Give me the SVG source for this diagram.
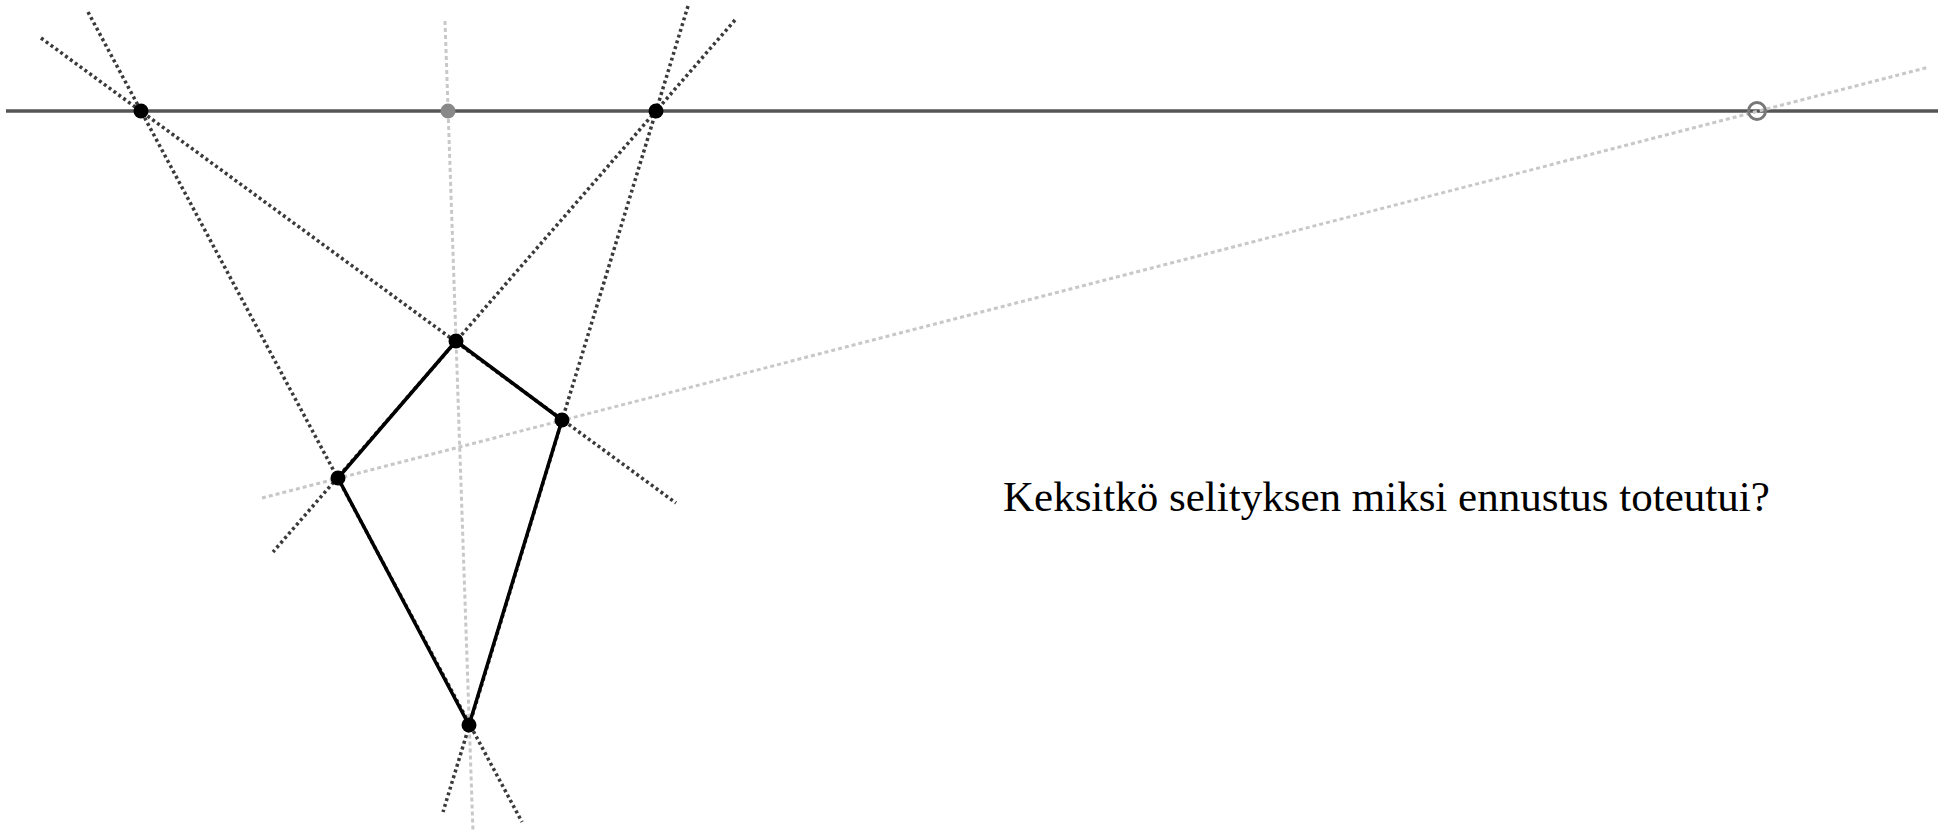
<svg xmlns="http://www.w3.org/2000/svg" width="1953" height="838" viewBox="0 0 1953 838">
<style>
.axis{stroke:#555;stroke-width:3.5;fill:none}
.dot{stroke:#3a3a3a;stroke-width:3.5;stroke-dasharray:3 3;fill:none}
.light{stroke:#c8c8c8;stroke-width:3;stroke-dasharray:4 3;fill:none}
.edge{stroke:#000;stroke-width:3.5;fill:none;stroke-linecap:round}
.pt{fill:#000}
.txt{font-family:"Liberation Serif","Times New Roman",serif;font-size:43px;fill:#000}
</style>
<rect width="1953" height="838" fill="#fff"/>
<g id="connectors">
<line class="axis" x1="6" y1="111" x2="1938" y2="111"/>
<line class="light" x1="445" y1="21" x2="473" y2="832"/>
<line class="light" x1="262" y1="498" x2="1929" y2="67"/>
<line class="dot" x1="41" y1="38" x2="676" y2="503"/>
<line class="dot" x1="88" y1="12" x2="522" y2="822"/>
<line class="dot" x1="735" y1="20" x2="273" y2="552"/>
<line class="dot" x1="688" y1="6" x2="443" y2="812"/>
<polygon class="edge" points="456,341 562,420 469,725 338,478"/>
</g>
<g id="pointA"><circle class="pt" cx="141" cy="111" r="7.5"/></g>
<g id="pointMid"><circle cx="448" cy="111" r="7.5" fill="#888"/></g>
<g id="pointB"><circle class="pt" cx="656" cy="111" r="7.5"/></g>
<g id="pointFar"><circle cx="1757" cy="111" r="8.5" fill="none" stroke="#777" stroke-width="3"/></g>
<g id="pointTop"><circle class="pt" cx="456" cy="341" r="7.5"/></g>
<g id="pointRight"><circle class="pt" cx="562" cy="420" r="7.5"/></g>
<g id="pointLeft"><circle class="pt" cx="338" cy="478" r="7.5"/></g>
<g id="pointBottom"><circle class="pt" cx="469" cy="725" r="7.5"/></g>
<g id="caption"><text class="txt" x="1003" y="511">Keksitkö selityksen miksi ennustus toteutui?</text></g>
</svg>
